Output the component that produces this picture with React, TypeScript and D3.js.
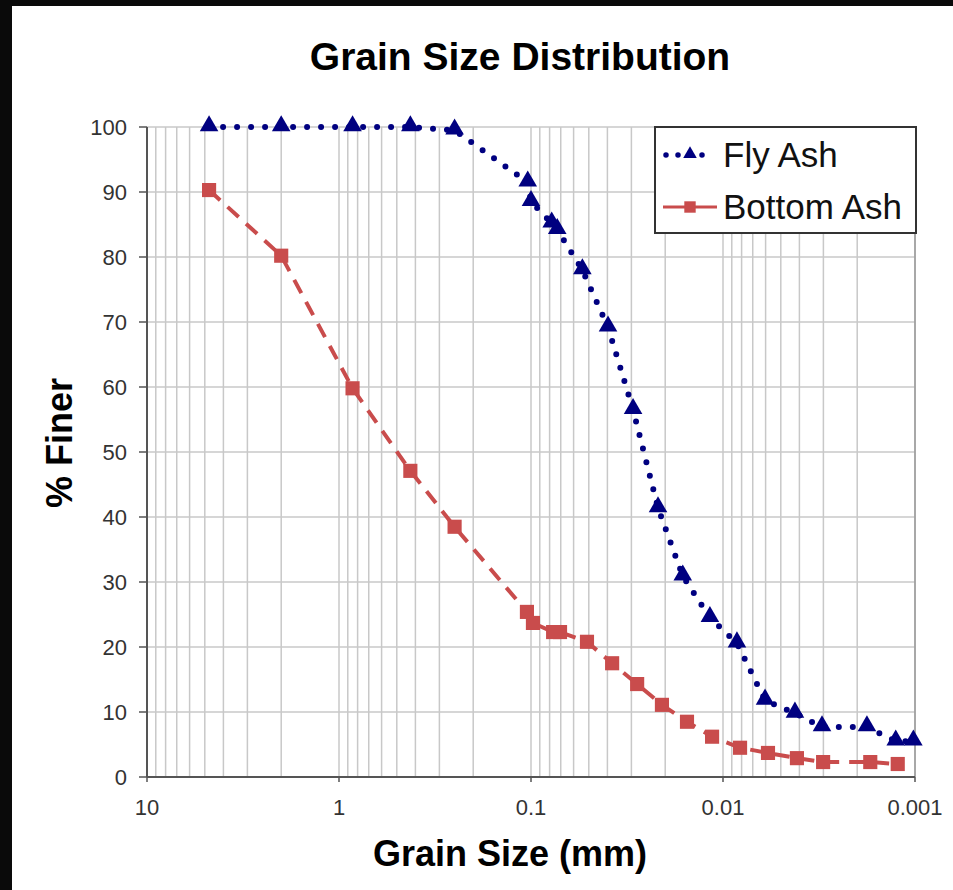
import React, { useEffect, useRef } from 'react';
import * as d3 from 'd3';

// grain size (mm) and % finer
const flyAshSize = [4.75, 2.0, 0.85, 0.425, 0.25, 0.104, 0.1, 0.078, 0.073, 0.054, 0.0397, 0.0294, 0.0218, 0.0162, 0.0117, 0.00846, 0.00604, 0.00422, 0.00305, 0.00178, 0.00126, 0.00102];
const flyAshFiner = [100, 100, 100, 100, 99.5, 91.5, 88.5, 85.2, 84.2, 78, 69.2, 56.5, 41.4, 30.9, 24.5, 20.6, 11.8, 9.8, 7.7, 7.7, 5.5, 5.5];

const bottomAshSize = [4.75, 2.0, 0.85, 0.425, 0.25, 0.105, 0.0977, 0.0767, 0.0706, 0.0511, 0.0378, 0.028, 0.0208, 0.0154, 0.0114, 0.00815, 0.00583, 0.00412, 0.00301, 0.00171, 0.00123];
const bottomAshFiner = [90.3, 80.2, 59.8, 47.1, 38.5, 25.4, 23.7, 22.3, 22.3, 20.8, 17.5, 14.3, 11.1, 8.5, 6.2, 4.5, 3.7, 2.9, 2.3, 2.3, 2.0];

const xTickLabels = [10, 1, 0.1, 0.01, 0.001];
const yTicks = [0, 10, 20, 30, 40, 50, 60, 70, 80, 90, 100];

const FONT = '"Liberation Sans", Arial, sans-serif';
const NAVY = '#000080';
const RED = '#C94C4C';

export default function App() {
  const ref = useRef<SVGSVGElement>(null);

  useEffect(() => {
    const svg = d3.select(ref.current);
    svg.selectAll('*').remove();

    const x = d3.scaleLog().domain([10, 0.001]).range([147, 915]);
    const y = d3.scaleLinear().domain([0, 100]).range([777, 127]);

    // white page with the black strips on top and left
    svg.append('rect').attr('width', 953).attr('height', 890).attr('fill', '#fff');
    svg.append('rect').attr('width', 953).attr('height', 6).attr('fill', '#0a0a0a');
    svg.append('rect').attr('width', 12).attr('height', 890).attr('fill', '#0a0a0a');

    // grid
    const minor: number[] = [];
    for (let k = -3; k <= 0; k++) {
      for (let i = 1; i <= 9; i++) minor.push(i * Math.pow(10, k));
    }
    minor.push(10);
    svg.append('g').selectAll('line').data(minor).enter().append('line')
      .attr('x1', d => x(d)).attr('x2', d => x(d))
      .attr('y1', y(100)).attr('y2', y(0))
      .attr('stroke', '#c8c8c8').attr('stroke-width', 1.5);
    svg.append('g').selectAll('line').data(yTicks).enter().append('line')
      .attr('x1', x(10)).attr('x2', x(0.001))
      .attr('y1', d => y(d)).attr('y2', d => y(d))
      .attr('stroke', '#c8c8c8').attr('stroke-width', 1.5);
    svg.append('line')
      .attr('x1', x(0.001)).attr('x2', x(0.001)).attr('y1', y(100)).attr('y2', y(0))
      .attr('stroke', '#999').attr('stroke-width', 1.5);

    // axes
    svg.append('line').attr('x1', x(10)).attr('x2', x(10)).attr('y1', y(100)).attr('y2', y(0))
      .attr('stroke', '#555').attr('stroke-width', 2);
    svg.append('line').attr('x1', x(10)).attr('x2', x(0.001)).attr('y1', y(0)).attr('y2', y(0))
      .attr('stroke', '#555').attr('stroke-width', 2);
    svg.append('g').selectAll('line').data(yTicks).enter().append('line')
      .attr('x1', x(10) - 8).attr('x2', x(10))
      .attr('y1', d => y(d)).attr('y2', d => y(d))
      .attr('stroke', '#555').attr('stroke-width', 1.5);
    svg.append('g').selectAll('line').data(xTickLabels).enter().append('line')
      .attr('x1', d => x(d)).attr('x2', d => x(d))
      .attr('y1', y(0)).attr('y2', y(0) + 5)
      .attr('stroke', '#555').attr('stroke-width', 1.5);

    svg.append('g').selectAll('text').data(yTicks).enter().append('text')
      .attr('x', x(10) - 20).attr('y', d => y(d)).attr('dy', '0.36em')
      .attr('text-anchor', 'end').attr('font-family', FONT).attr('font-size', 22).attr('fill', '#333')
      .text(d => d);
    svg.append('g').selectAll('text').data(xTickLabels).enter().append('text')
      .attr('x', d => x(d)).attr('y', 815)
      .attr('text-anchor', 'middle').attr('font-family', FONT).attr('font-size', 22).attr('fill', '#333')
      .text(d => String(d));

    // titles
    svg.append('text').attr('x', 520).attr('y', 70).attr('text-anchor', 'middle')
      .attr('font-family', FONT).attr('font-weight', 'bold').attr('font-size', 39).attr('fill', '#000')
      .text('Grain Size Distribution');
    svg.append('text').attr('x', 510).attr('y', 866).attr('text-anchor', 'middle')
      .attr('font-family', FONT).attr('font-weight', 'bold').attr('font-size', 36).attr('fill', '#000')
      .text('Grain Size (mm)');
    svg.append('text').attr('transform', 'translate(72,443) rotate(-90)').attr('text-anchor', 'middle')
      .attr('font-family', FONT).attr('font-weight', 'bold').attr('font-size', 36).attr('fill', '#000')
      .text('% Finer');

    const line = d3.line<[number, number]>().x(d => x(d[0])).y(d => y(d[1]));
    const tri = d3.symbol().type(d3.symbolTriangle).size(150);
    const sq = d3.symbol().type(d3.symbolSquare).size(200);

    const bottom = bottomAshSize.map((s, i) => [s, bottomAshFiner[i]] as [number, number]);
    const fly = flyAshSize.map((s, i) => [s, flyAshFiner[i]] as [number, number]);

    svg.append('path').attr('d', line(bottom)).attr('fill', 'none')
      .attr('stroke', RED).attr('stroke-width', 4).attr('stroke-dasharray', '15 10');
    svg.append('g').selectAll('path').data(bottom).enter().append('path')
      .attr('d', sq).attr('transform', d => `translate(${x(d[0])},${y(d[1])})`).attr('fill', RED);

    svg.append('path').attr('d', line(fly)).attr('fill', 'none')
      .attr('stroke', NAVY).attr('stroke-width', 6).attr('stroke-linecap', 'round').attr('stroke-dasharray', '0 14');
    svg.append('g').selectAll('path').data(fly).enter().append('path')
      .attr('d', tri).attr('transform', d => `translate(${x(d[0])},${y(d[1]) - 1})`).attr('fill', NAVY);

    // legend
    const lg = svg.append('g');
    lg.append('rect').attr('x', 655).attr('y', 127).attr('width', 261).attr('height', 106)
      .attr('fill', '#fff').attr('stroke', '#333').attr('stroke-width', 2);
    lg.append('line').attr('x1', 666).attr('x2', 714).attr('y1', 155).attr('y2', 155)
      .attr('stroke', NAVY).attr('stroke-width', 5.5).attr('stroke-linecap', 'round').attr('stroke-dasharray', '0 12');
    lg.append('path').attr('d', d3.symbol().type(d3.symbolTriangle).size(80)).attr('transform', 'translate(690,154)').attr('fill', NAVY);
    lg.append('text').attr('x', 723).attr('y', 167).attr('font-family', FONT).attr('font-size', 35).attr('fill', '#111').text('Fly Ash');
    lg.append('line').attr('x1', 663).attr('x2', 717).attr('y1', 207).attr('y2', 207)
      .attr('stroke', RED).attr('stroke-width', 3);
    lg.append('path').attr('d', d3.symbol().type(d3.symbolSquare).size(130)).attr('transform', 'translate(690,207)').attr('fill', RED);
    lg.append('text').attr('x', 723).attr('y', 219).attr('font-family', FONT).attr('font-size', 35).attr('fill', '#111').text('Bottom Ash');
  }, []);

  return (
    <svg ref={ref} width={953} height={890} style={{ position: 'absolute', left: 0, top: 0 }} />
  );
}
